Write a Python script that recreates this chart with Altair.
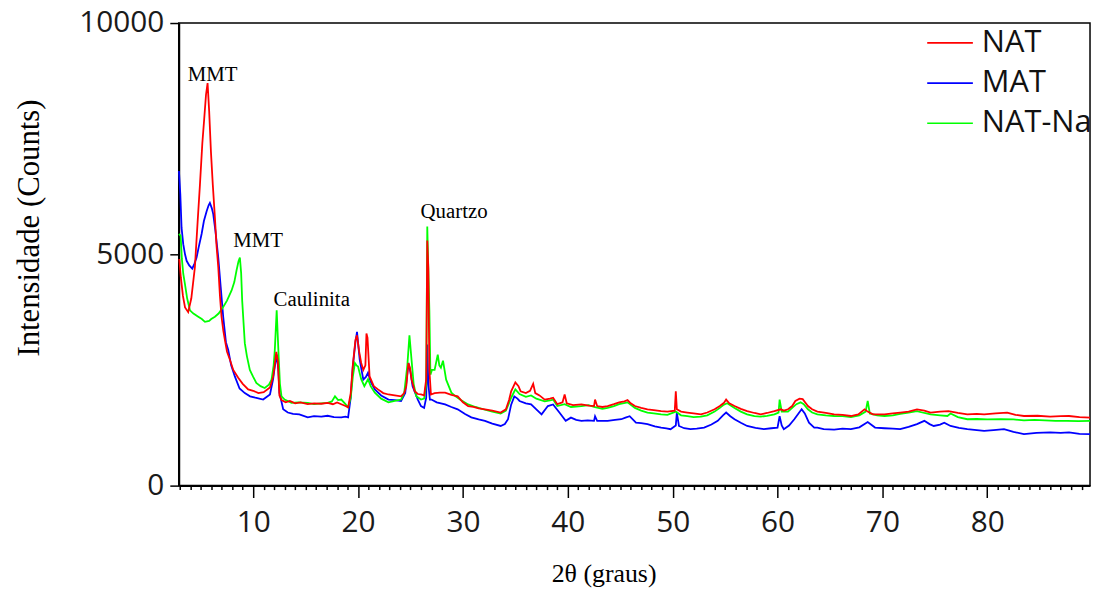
import altair as alt
import pandas as pd

# ---- data (2θ in degrees, intensity in counts) ----
nat_x = [2.95, 3.1, 3.3, 3.5, 3.8, 4.1, 4.44, 4.7, 4.92, 5.15, 5.33, 5.5, 5.65, 5.8, 5.97, 6.15, 6.35, 6.5, 6.67, 6.83,
         6.98, 7.15, 7.3, 7.5, 7.78, 8.1, 8.57, 9.0, 9.52, 10.0, 10.5, 11.0, 11.6, 11.9, 12.05, 12.2, 12.35, 12.5, 12.7, 13.1,
         13.5, 14.0, 14.5, 15.2, 15.8, 16.5, 17.1, 17.6, 18.0, 18.4, 18.8, 19.05, 19.3, 19.5, 19.75, 19.9, 20.1, 20.3, 20.5, 20.7,
         20.8, 20.9, 21.1, 21.5, 21.9, 22.4, 22.9, 23.5, 24.1, 24.4, 24.6, 24.8, 24.95, 25.1, 25.4, 25.7, 26.0, 26.3, 26.5, 26.6,
         26.7, 26.8, 26.95, 27.3, 27.8, 28.3, 28.9, 29.5, 30.0, 30.5, 31.0, 31.5, 32.1, 32.8, 33.6, 34.1, 34.4, 34.6, 35.0, 35.3,
         35.5, 36.0, 36.4, 36.7, 36.9, 37.3, 37.8, 38.3, 38.6, 39.0, 39.5, 39.7, 39.9, 40.5, 41.3, 42.0, 42.5, 42.6, 42.8, 43.3,
         43.8, 44.4, 44.9, 45.4, 45.7, 46.0, 46.4, 47.0, 47.6, 48.2, 48.9, 49.5, 50.2, 50.3, 50.4, 50.8, 51.4, 52.0, 52.7, 53.3,
         54.0, 54.5, 54.9, 55.1, 55.4, 55.9, 56.5, 57.1, 57.8, 58.4, 59.0, 59.7, 60.3, 60.6, 61.0, 61.4, 61.7, 62.1, 62.4, 62.7,
         62.9, 63.3, 63.8, 64.6, 65.4, 66.2, 67.0, 67.7, 68.3, 68.6, 69.1, 70.2, 71.0, 71.7, 72.5, 73.3, 74.0, 74.6, 75.5, 76.3,
         77.2, 78.1, 79.0, 79.7, 80.8, 81.9, 82.7, 83.5, 84.8, 86.0, 87.0, 87.8, 88.8, 89.8]
nat_y = [4900, 4500, 4100, 3850, 3750, 4050, 4720, 5700, 6500, 7400, 7930, 8450, 8700, 8100, 7220, 6500, 5790, 5200, 4720, 4100,
         3650, 3350, 3150, 2900, 2720, 2500, 2330, 2200, 2080, 2050, 2000, 2020, 2120, 2350, 2600, 2890, 2700, 1950, 1850, 1800,
         1830, 1780, 1800, 1760, 1780, 1770, 1790, 1760, 1800, 1760, 1720, 1690, 2000, 2600, 3150, 3250, 2900, 2650, 2500, 2600,
         3290, 3200, 2360, 2150, 2080, 2000, 1970, 1950, 1930, 2000, 2150, 2650, 2550, 2300, 2040, 1980, 1970, 1950, 2300, 5300,
         4700, 2500, 1970, 2000, 2010, 2010, 1960, 1930, 1800, 1720, 1700, 1670, 1650, 1620, 1580, 1650, 1850, 2040, 2230, 2150,
         2040, 2000, 2050, 2200, 2000, 1950, 1860, 1880, 1900, 1760, 1800, 1970, 1780, 1740, 1755, 1730, 1720, 1860, 1720, 1700,
         1720, 1760, 1800, 1820, 1850, 1780, 1720, 1680, 1650, 1630, 1610, 1600, 1620, 2040, 1650, 1600, 1580, 1560, 1540, 1580,
         1650, 1720, 1790, 1860, 1780, 1720, 1660, 1610, 1570, 1540, 1570, 1610, 1650, 1620, 1650, 1720, 1830, 1880, 1870, 1780,
         1720, 1650, 1600, 1570, 1540, 1530, 1505, 1540, 1650, 1600, 1540, 1540, 1560, 1580, 1600, 1650, 1620, 1580, 1600, 1610,
         1570, 1540, 1550, 1540, 1560, 1580, 1530, 1505, 1510, 1490, 1500, 1505, 1480, 1470]

mat_x = [2.92, 3.05, 3.17, 3.33, 3.5, 3.65, 3.9, 4.19, 4.4, 4.6, 4.8, 5.08, 5.3, 5.56, 5.75, 5.87, 6.05, 6.19, 6.4, 6.67,
         6.9, 7.14, 7.4, 7.62, 7.9, 8.25, 8.7, 9.2, 9.7, 10.2, 10.95, 11.6, 11.9, 12.06, 12.25, 12.4, 12.5, 12.86, 13.3, 13.8,
         14.4, 15.2, 15.8, 16.5, 17.1, 17.7, 18.4, 18.8, 19.05, 19.3, 19.5, 19.75, 19.9, 20.16, 20.5, 20.75, 20.95, 21.2, 21.6, 22.2,
         22.9, 23.5, 24.1, 24.5, 24.8, 25.0, 25.2, 25.7, 26.0, 26.3, 26.5, 26.6, 26.7, 26.85, 27.0, 27.5, 28.3, 28.9, 29.5, 30.2,
         30.8, 31.5, 32.1, 32.8, 33.6, 34.0, 34.3, 34.6, 34.9, 35.2, 35.4, 36.0, 36.5, 37.0, 37.5, 38.1, 38.6, 39.2, 39.8, 40.3,
         40.8, 41.3, 41.9, 42.5, 42.6, 42.8, 43.8, 44.5, 45.1, 45.5, 45.9, 46.5, 47.0, 47.6, 48.3, 48.9, 49.4, 49.8, 50.3, 50.4,
         50.6, 51.1, 51.7, 52.3, 53.0, 53.7, 54.3, 54.8, 55.1, 55.5, 55.9, 56.5, 57.1, 57.9, 58.7, 59.4, 60.0, 60.2, 60.4, 60.6,
         61.1, 61.6, 62.0, 62.3, 62.6, 63.0, 63.5, 63.8, 64.4, 65.4, 66.2, 67.0, 67.8, 68.6, 69.3, 70.2, 71.0, 71.7, 72.5, 73.3,
         74.0, 74.5, 74.9, 75.5, 75.9, 76.5, 77.3, 78.1, 79.0, 79.7, 80.6, 81.6, 82.5, 83.5, 84.7, 86.0, 87.0, 87.8, 88.8, 89.8]
mat_y = [6800, 6300, 5570, 5220, 5000, 4860, 4760, 4690, 4800, 4930, 5150, 5440, 5720, 5930, 6060, 6110, 6000, 5870, 5500, 4930,
         4300, 3650, 3100, 2930, 2600, 2360, 2100, 2000, 1930, 1900, 1860, 1970, 2300, 2575, 2830, 2500, 2010, 1650, 1580, 1550,
         1540, 1475, 1500, 1490, 1510, 1480, 1475, 1490, 1475, 1900, 2575, 3100, 3325, 2720, 2290, 2350, 2440, 2250, 2080, 1950,
         1860, 1850, 1830, 2000, 2650, 2450, 2150, 1860, 1720, 1680, 1900, 3050, 2200, 1860, 1860, 1800, 1755, 1700, 1650, 1550,
         1475, 1430, 1400, 1340, 1290, 1330, 1435, 1750, 1930, 1880, 1830, 1780, 1755, 1650, 1540, 1720, 1755, 1580, 1400, 1470,
         1420, 1400, 1410, 1400, 1500, 1400, 1400, 1420, 1435, 1470, 1500, 1360, 1350, 1330, 1280, 1255, 1240, 1220, 1300, 1580,
         1290, 1240, 1220, 1230, 1255, 1320, 1400, 1520, 1580, 1500, 1435, 1360, 1290, 1250, 1220, 1240, 1255, 1500, 1300, 1220,
         1300, 1435, 1560, 1650, 1560, 1360, 1255, 1255, 1220, 1210, 1230, 1220, 1260, 1375, 1255, 1240, 1230, 1220, 1270, 1330,
         1400, 1330, 1290, 1320, 1360, 1290, 1250, 1220, 1200, 1185, 1200, 1220, 1160, 1115, 1140, 1150, 1140, 1150, 1120, 1115]

natna_x = [2.92, 3.08, 3.2, 3.33, 3.49, 3.7, 3.97, 4.3, 4.76, 5.1, 5.4, 5.8, 6.0, 6.35, 6.7, 7.14, 7.5, 7.94, 8.2, 8.41,
           8.6, 8.73, 8.85, 8.95, 9.2, 9.4, 9.68, 10.0, 10.3, 10.7, 11.1, 11.5, 11.75, 11.95, 12.06, 12.24, 12.4, 12.55, 12.7, 13.0,
           13.65, 14.3, 15.2, 15.8, 16.5, 17.1, 17.5, 17.8, 18.1, 18.4, 18.8, 19.05, 19.3, 19.5, 19.7, 19.85, 20.0, 20.3, 20.6, 20.95,
           21.2, 21.6, 22.2, 22.9, 23.5, 24.1, 24.4, 24.7, 24.9, 25.1, 25.3, 25.55, 26.0, 26.3, 26.5, 26.6, 26.72, 26.8, 26.9, 27.05,
           27.3, 27.6, 27.75, 27.9, 28.1, 28.4, 28.9, 29.3, 29.8, 30.5, 31.2, 32.1, 32.8, 33.6, 34.1, 34.6, 35.0, 35.4, 36.0, 36.5,
           37.0, 37.8, 38.3, 38.6, 39.0, 39.7, 40.3, 41.3, 42.0, 42.5, 43.3, 43.8, 44.4, 44.9, 45.7, 46.4, 47.0, 47.6, 48.2, 48.9,
           49.5, 50.3, 50.8, 51.4, 52.0, 52.7, 53.3, 54.0, 54.5, 54.9, 55.2, 55.9, 56.5, 57.1, 57.8, 58.4, 59.0, 59.7, 60.1, 60.2,
           60.4, 61.0, 61.4, 61.8, 62.2, 62.5, 62.9, 63.3, 63.8, 64.6, 65.4, 66.2, 67.0, 67.8, 68.4, 68.6, 68.8, 69.5, 70.2, 71.0,
           71.7, 72.5, 73.3, 74.0, 74.6, 75.5, 76.2, 76.5, 77.2, 78.1, 79.0, 80.0, 81.3, 82.5, 83.5, 84.5, 85.5, 86.5, 87.6, 88.7,
           89.8]
natna_y = [5440, 5400, 4900, 4580, 4360, 4050, 3790, 3720, 3650, 3600, 3540, 3560, 3600, 3650, 3720, 3860, 4000, 4220, 4400, 4650,
           4850, 4930, 4600, 4000, 3080, 2800, 2500, 2350, 2220, 2150, 2110, 2180, 2290, 2600, 2930, 3790, 2930, 2200, 1930, 1860,
           1790, 1800, 1790, 1760, 1780, 1790, 1820, 1930, 1850, 1860, 1760, 1690, 1900, 2350, 2650, 2600, 2575, 2300, 2150, 2300,
           2150, 2010, 1880, 1800, 1830, 1860, 2000, 2600, 3250, 2720, 2200, 1930, 1860, 1880, 2200, 5600, 4500, 3790, 2400, 2500,
           2500, 2830, 2600, 2550, 2700, 2290, 2010, 1930, 1850, 1755, 1700, 1640, 1600, 1560, 1620, 1900, 2080, 1980, 1920, 1950,
           1880, 1820, 1840, 1860, 1720, 1760, 1700, 1720, 1740, 1700, 1660, 1680, 1720, 1760, 1800, 1680, 1620, 1580, 1560, 1540,
           1530, 1600, 1520, 1500, 1480, 1490, 1520, 1600, 1680, 1750, 1780, 1680, 1600, 1540, 1500, 1490, 1510, 1540, 1580, 1860,
           1600, 1600, 1680, 1760, 1800, 1760, 1650, 1580, 1540, 1520, 1505, 1500, 1480, 1520, 1600, 1830, 1560, 1520, 1505, 1520,
           1550, 1580, 1610, 1570, 1540, 1520, 1505, 1560, 1480, 1435, 1440, 1430, 1435, 1430, 1410, 1420, 1410, 1400, 1400, 1395,
           1400]

series_names = ["NAT", "MAT", "NAT-Na"]
series_colors = ["#ff0000", "#0000ff", "#00ff00"]

ann_text = ["MMT", "MMT", "Caulinita", "Quartzo"]
ann_x = [6.12, 10.47, 15.58, 29.16]
ann_y = [8749, 5157, 3884, 5788]

x_ticks = list(range(3, 90))          # every degree; labelled every 10
y_ticks = [0, 5000, 10000]

# ---- build tables ----
frames = []
for name, xs, ys in [("MAT", mat_x, mat_y), ("NAT-Na", natna_x, natna_y), ("NAT", nat_x, nat_y)]:
    frames.append(pd.DataFrame({"theta": xs, "counts": ys, "serie": name}))
lines_df = pd.concat(frames, ignore_index=True)
ann_df = pd.DataFrame({"label": ann_text, "theta": ann_x, "counts": ann_y})

SANS = "Open Sans"
SERIF = "Liberation Serif"

xscale = alt.Scale(domain=[2.9, 89.8], nice=False, zero=False)
yscale = alt.Scale(domain=[0, 10000], nice=False)

x_enc = alt.X("theta:Q", scale=xscale,
              axis=alt.Axis(values=x_ticks, grid=False, orient="bottom",
                            labelExpr="datum.value % 10 === 0 ? datum.label : ''",
                            labelOverlap=False, labelFlush=False,
                            title="2θ (graus)", titleFont=SERIF, titleFontSize=26,
                            titleFontWeight="normal", titleColor="black",
                            titleX=428, titleY=97, titleAlign="center", titleBaseline="alphabetic",
                            labelFont=SANS, labelFontSize=30, labelColor="#1a1a1a",
                            labelPadding=10,
                            tickSize={"condition": {"test": "datum.value % 10 === 0", "value": 12}, "value": 4},
                            tickColor="black", tickWidth=1.5,
                            domainColor="black", domainWidth=2))

y_enc = alt.Y("counts:Q", scale=yscale,
              axis=alt.Axis(values=y_ticks, format="d", grid=False,
                            title="Intensidade (Counts)", titleFont=SERIF, titleFontSize=31,
                            titleFontWeight="normal", titleColor="black",
                            titleAngle=-90, titleX=-150, titleY=206, titleAlign="center",
                            titleBaseline="middle",
                            labelFont=SANS, labelFontSize=30, labelColor="#1a1a1a",
                            labelPadding=6, tickSize=9, tickColor="black", tickWidth=1.5,
                            domainColor="black", domainWidth=2))

lines = alt.Chart(lines_df).mark_line(strokeWidth=1.8, interpolate="linear").encode(
    x=x_enc,
    y=y_enc,
    color=alt.Color("serie:N", scale=alt.Scale(domain=series_names, range=series_colors),
                    legend=alt.Legend(title="", orient="none", legendX=753, legendY=-4,
                                      symbolType="stroke", symbolSize=2116, symbolStrokeWidth=1.6,
                                      labelFont=SANS, labelFontSize=31, labelColor="#111111",
                                      labelOffset=8, rowPadding=1.5, padding=0)),
)

texts = alt.Chart(ann_df).mark_text(font=SERIF, fontSize=21, color="black",
                                    align="center", baseline="alphabetic").encode(
    x=x_enc,
    y=y_enc,
    text="label:N",
)

chart = alt.layer(lines, texts).properties(
    width=918, height=466,
    autosize=alt.AutoSizeParams(type="none"),
    padding={"left": 172, "top": 13, "right": 2, "bottom": 102},
    background="white",
).configure_view(stroke="black", strokeWidth=1.5)

chart.save("out.html", embed_options={"renderer": "svg", "actions": False})
